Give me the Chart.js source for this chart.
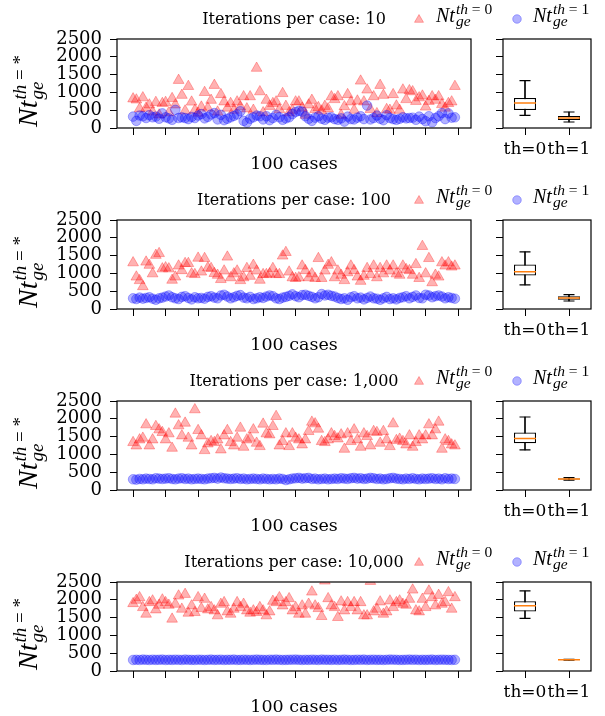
<!DOCTYPE html>
<html>
<head>
<meta charset="utf-8">
<script src="https://cdn.jsdelivr.net/npm/chart.js@4/dist/chart.umd.min.js"></script>
<style>
  body { margin: 0; background: #fff; width: 605px; height: 716px; position: relative; overflow: hidden; }
  .row { position: absolute; left: 0; width: 605px; height: 181px; }
  .row canvas { position: absolute; top: 0; }
</style>
</head>
<body>
<div class="row" style="top:0px"><canvas id="sc0" width="605" height="181" style="left:0"></canvas><canvas id="bx0" width="125" height="181" style="left:480px"></canvas></div>
<div class="row" style="top:181px"><canvas id="sc1" width="605" height="181" style="left:0"></canvas><canvas id="bx1" width="125" height="181" style="left:480px"></canvas></div>
<div class="row" style="top:362px"><canvas id="sc2" width="605" height="181" style="left:0"></canvas><canvas id="bx2" width="125" height="181" style="left:480px"></canvas></div>
<div class="row" style="top:543px"><canvas id="sc3" width="605" height="181" style="left:0"></canvas><canvas id="bx3" width="125" height="181" style="left:480px"></canvas></div>

<script>
// ---- data ----
const titles = ['Iterations per case: 10', 'Iterations per case: 100', 'Iterations per case: 1,000', 'Iterations per case: 10,000'];
const yTicks = [0, 500, 1000, 1500, 2000, 2500];
const xTicks = [0, 10, 20, 30, 40, 50, 60, 70, 80, 90, 100];
const boxLabels = ['th=0', 'th=1'];
const cases = Array.from({ length: 100 }, (_, i) => i);

const th0Iter10 = [
  820, 790, 540, 850, 560, 650, 450, 720, 370, 690,
  720, 430, 830, 650, 1340, 920, 480, 1170, 730, 500,
  420, 590, 1000, 560, 780, 1200, 450, 940, 735, 560,
  690, 500, 735, 600, 880, 540, 880, 500, 1680, 1020,
  430, 780, 610, 690, 735, 520, 970, 610, 430, 500,
  735, 735, 560, 360, 650, 780, 520, 575, 480, 610,
  540, 880, 800, 880, 360, 600, 940, 735, 500, 760,
  1320, 735, 1070, 520, 880, 405, 1200, 920, 520, 500,
  940, 620, 500, 1070, 800, 1050, 1020, 750, 850, 900,
  590, 750, 880, 780, 880, 660, 560, 690, 735, 1170
];
const th1Iter10 = [
  320, 200, 350, 330, 280, 360, 300, 320, 260, 410,
  300, 270, 230, 510, 280, 300, 280, 250, 310, 280,
  350, 390, 270, 310, 380, 420, 240, 370, 220, 260,
  300, 340, 380, 470, 200, 150, 260, 300, 350, 330,
  240, 330, 220, 280, 370, 300, 230, 270, 300, 390,
  450, 480, 460, 330, 260, 200, 290, 330, 260, 230,
  290, 300, 250, 230, 270, 180, 320, 250, 240, 290,
  330, 250, 630, 240, 280, 350, 260, 220, 360, 280,
  250, 230, 260, 300, 270, 280, 290, 230, 320, 250,
  190, 330, 160, 280, 330, 420, 250, 410, 290, 300
];
const th0Iter100 = [
  1300, 900, 800, 630, 1320, 1230, 990, 1510, 1560, 1130,
  1160, 1130, 810, 900, 1210, 1080, 1280, 1280, 990, 970,
  1430, 1040, 1420, 1160, 1140, 1000, 950, 830, 1070, 1460,
  880, 990, 1070, 800, 880, 1140, 920, 1230, 1070, 810,
  970, 970, 990, 1140, 970, 970, 1490, 1590, 1040, 880,
  860, 880, 1210, 1080, 880, 990, 860, 1420, 860, 1070,
  1230, 1300, 880, 1070, 950, 800, 1020, 1210, 1080, 900,
  780, 920, 1140, 970, 1210, 880, 1140, 990, 1210, 1070,
  1210, 990, 950, 1210, 1110, 1080, 950, 1250, 860, 1760,
  990, 1420, 740, 950, 900, 1300, 1210, 1300, 1180, 1210
];
const th1Iter100 = [
  300, 280, 320, 290, 310, 330, 290, 260, 300, 320,
  350, 380, 330, 300, 280, 340, 360, 310, 270, 330,
  300, 310, 290, 340, 360, 320, 300, 380, 400, 350,
  300, 330, 370, 390, 320, 300, 340, 280, 300, 330,
  310, 350, 380, 360, 300, 280, 320, 340, 370, 410,
  360, 330, 390, 400, 370, 340, 300, 330, 420, 380,
  400, 370, 350, 310, 280, 300, 260, 330, 360, 300,
  320, 270, 310, 350, 300, 290, 260, 300, 340, 280,
  300, 270, 310, 330, 360, 300, 340, 380, 310, 300,
  400, 380, 330, 360, 380, 350, 300, 330, 310, 290
];
const th0Iter1000 = [
  1335, 1240, 1410, 1457, 1833, 1240, 1410, 1786, 1692, 1617,
  1410, 1580, 1175, 2134, 1805, 1523, 1880, 1457, 1240, 2256,
  1673, 1523, 1109, 1297, 1363, 1335, 1410, 1128, 1523, 1673,
  1335, 1240, 1457, 1739, 1203, 1410, 1457, 1692, 1316, 1222,
  1852, 1580, 1551, 1786, 2068, 1240, 1363, 1580, 1222, 1580,
  1457, 1410, 1269, 1410, 1645, 1908, 1861, 1711, 1363, 1335,
  1410, 1580, 1504, 1438, 1551, 1147, 1580, 1363, 1692, 1410,
  1203, 1580, 1504, 1240, 1645, 1617, 1316, 1645, 1410, 1222,
  1861, 1391, 1429, 1363, 1269, 1523, 1203, 1335, 1523, 1410,
  1523, 1833, 1523, 1692, 1908, 1147, 1410, 1363, 1269, 1240
];
const th1Iter1000 = [
  300, 290, 310, 300, 320, 310, 300, 330, 320, 310,
  320, 330, 310, 300, 320, 330, 310, 320, 300, 310,
  320, 310, 300, 320, 330, 340, 320, 350, 330, 320,
  310, 320, 330, 310, 320, 300, 310, 320, 310, 300,
  320, 310, 300, 310, 300, 320, 310, 280, 300, 320,
  330, 340, 320, 330, 340, 310, 320, 300, 310, 320,
  300, 310, 320, 310, 330, 320, 310, 330, 340, 320,
  330, 310, 320, 340, 330, 310, 320, 300, 310, 330,
  340, 320, 310, 300, 320, 310, 330, 310, 300, 320,
  310, 320, 330, 310, 320, 300, 330, 310, 320, 310
];
const th0Iter10000 = [
  1895, 1988, 2062, 1784, 1598, 1923, 1970, 1719, 1849, 1998,
  1923, 1849, 1459, 1877, 2109, 1738, 2155, 1626, 1830, 1645,
  2062, 1756, 2016, 1719, 1784, 1691, 1552, 1877, 1923, 1663,
  1598, 1738, 1923, 1784, 1877, 1691, 1626, 1691, 1645, 1784,
  1691, 1552, 1663, 1960, 1923, 2062, 1830, 1923, 2034, 1691,
  1784, 1598, 1830, 1598, 1877, 2220, 1830, 1756, 1533, 2530,
  2034, 1830, 1784, 1505, 1942, 1691, 1923, 1784, 1923, 1691,
  1923, 1552, 1552, 2520, 1663, 1738, 1942, 1598, 1663, 1970,
  1784, 1923, 1970, 1877, 1849, 2016, 2276, 1691, 1663, 2016,
  1784, 2248, 2062, 1830, 2127, 1877, 1923, 2202, 1738, 2062
];
const th1Iter10000 = [
  310, 315, 310, 320, 315, 310, 318, 312, 315, 320,
  310, 315, 312, 318, 315, 310, 320, 315, 312, 310,
  318, 315, 310, 315, 320, 312, 315, 318, 310, 315,
  315, 320, 310, 312, 318, 315, 310, 315, 320, 315,
  312, 310, 318, 315, 320, 315, 310, 312, 315, 318,
  320, 315, 310, 315, 312, 318, 315, 310, 320, 315,
  315, 312, 318, 310, 315, 320, 315, 310, 312, 318,
  315, 320, 310, 315, 318, 312, 315, 310, 315, 320,
  318, 315, 310, 312, 315, 320, 315, 318, 310, 315,
  312, 315, 320, 310, 315, 318, 315, 312, 310, 315
];

// box plot summaries per row: [th=0, th=1]
const boxLow  = [[356, 169], [677, 225], [1128, 280], [1477, 305]];
const boxQ1   = [[506, 225], [940, 263], [1316, 295], [1672, 310]];
const boxMed  = [[703, 281], [1043, 310], [1448, 310], [1830, 315]];
const boxQ3   = [[844, 338], [1250, 357], [1617, 325], [1960, 320]];
const boxHigh = [[1332, 450], [1607, 404], [2050, 345], [2248, 325]];

const th0Rows = [th0Iter10, th0Iter100, th0Iter1000, th0Iter10000];
const th1Rows = [th1Iter10, th1Iter100, th1Iter1000, th1Iter10000];

// ---- styling ----
const SERIF = '"DejaVu Serif", serif';
const MATH = '"Liberation Serif", serif';
const RED = 'rgba(255,0,0,0.3)';
const BLUE = 'rgba(0,0,255,0.3)';

function drawNt(ctx, x, y, supTail, big, small) {
    ctx.save();
    ctx.fillStyle = '#000';
    ctx.textAlign = 'left';
    ctx.textBaseline = 'alphabetic';
    ctx.font = 'italic ' + big + 'px ' + MATH;
    ctx.fillText('Nt', x, y);
    const w = ctx.measureText('Nt').width + 1;
    ctx.font = 'italic ' + small + 'px ' + MATH;
    ctx.fillText('ge', x + w, y + big * 0.22);
    ctx.fillText('th', x + w, y - big * 0.38);
    const w2 = ctx.measureText('th').width;
    ctx.font = small + 'px ' + MATH;
    ctx.fillText(' = ' + supTail, x + w + w2, y - big * 0.38);
    ctx.restore();
}

const framePlugin = {
    id: 'frame',
    afterDraw(chart) {
        const { ctx, chartArea: a } = chart;
        ctx.save();
        ctx.strokeStyle = '#000';
        ctx.lineWidth = 1.2;
        ctx.strokeRect(a.left, a.top, a.right - a.left, a.bottom - a.top);
        ctx.restore();
    }
};

const annotPlugin = {
    id: 'annot',
    afterDraw(chart, args, opts) {
        const { ctx, chartArea: a } = chart;
        ctx.save();
        // title
        ctx.fillStyle = '#000';
        ctx.font = '16px ' + SERIF;
        ctx.textAlign = 'center';
        ctx.textBaseline = 'alphabetic';
        ctx.fillText(opts.title, (a.left + a.right) / 2, 24);
        // legend markers
        ctx.fillStyle = RED;
        ctx.strokeStyle = RED;
        ctx.beginPath();
        ctx.moveTo(419, 14.5);
        ctx.lineTo(423.5, 22.3);
        ctx.lineTo(414.5, 22.3);
        ctx.closePath();
        ctx.fill();
        ctx.stroke();
        ctx.fillStyle = BLUE;
        ctx.strokeStyle = BLUE;
        ctx.beginPath();
        ctx.arc(517, 19, 4.3, 0, Math.PI * 2);
        ctx.fill();
        ctx.stroke();
        ctx.restore();
        drawNt(ctx, 436, 22, '0', 20, 15.5);
        drawNt(ctx, 533, 22, '1', 20, 15.5);
        // y label
        ctx.save();
        ctx.translate(37, 127);
        ctx.rotate(-Math.PI / 2);
        drawNt(ctx, 0, 0, '*', 28, 19);
        ctx.restore();
    }
};

function tickGrid() {
    return { drawOnChartArea: false, drawTicks: true, tickLength: 7, tickColor: '#000', tickWidth: 1 };
}

function buildScatter(r) {
    const toPts = vals => cases.map((c, i) => ({ x: c, y: vals[i] }));
    new Chart(document.getElementById('sc' + r), {
        type: 'scatter',
        data: {
            datasets: [
                {
                    label: 'th=1',
                    data: toPts(th1Rows[r]),
                    pointStyle: 'circle',
                    pointRadius: 4.8,
                    backgroundColor: BLUE,
                    borderColor: BLUE,
                    borderWidth: 1,
                    order: 0
                },
                {
                    label: 'th=0',
                    data: toPts(th0Rows[r]),
                    pointStyle: 'triangle',
                    pointRadius: 6.2,
                    backgroundColor: RED,
                    borderColor: RED,
                    borderWidth: 1,
                    order: 1
                }
            ]
        },
        options: {
            responsive: false,
            animation: false,
            devicePixelRatio: 1,
            layout: { padding: { left: 0, right: 134, top: 39, bottom: 0 } },
            plugins: {
                legend: { display: false },
                tooltip: { enabled: false },
                annot: { title: titles[r] }
            },
            scales: {
                x: {
                    type: 'linear',
                    min: -4.95,
                    max: 103.95,
                    afterBuildTicks: s => { s.ticks = xTicks.map(v => ({ value: v })); },
                    afterFit: s => { s.height = 53; },
                    ticks: { display: false },
                    grid: tickGrid(),
                    border: { display: false },
                    title: {
                        display: true,
                        text: '100 cases',
                        color: '#000',
                        font: { family: SERIF, size: 17.5 },
                        padding: { top: 0, bottom: 6 }
                    }
                },
                y: {
                    min: 0,
                    max: 2500,
                    afterBuildTicks: s => { s.ticks = yTicks.map(v => ({ value: v })); },
                    afterFit: s => { s.width = 117; },
                    ticks: {
                        color: '#000',
                        padding: 8,
                        autoSkip: false,
                        font: { family: SERIF, size: 18 },
                        callback: v => String(v)
                    },
                    grid: tickGrid(),
                    border: { display: false }
                }
            }
        },
        plugins: [framePlugin, annotPlugin]
    });
}

function buildBox(r) {
    new Chart(document.getElementById('bx' + r), {
        type: 'bar',
        data: {
            labels: boxLabels,
            datasets: [
                {
                    label: 'whisker',
                    data: boxLabels.map((_, k) => [boxLow[r][k], boxHigh[r][k]]),
                    backgroundColor: '#000',
                    borderWidth: 0,
                    barThickness: 1,
                    grouped: false,
                    order: 3
                },
                {
                    label: 'box',
                    data: boxLabels.map((_, k) => [boxQ1[r][k], boxQ3[r][k]]),
                    backgroundColor: '#fff',
                    borderColor: '#000',
                    borderWidth: 1.2,
                    borderSkipped: false,
                    barPercentage: 0.5,
                    categoryPercentage: 1,
                    grouped: false,
                    order: 2
                },
                {
                    type: 'line',
                    label: 'caps low',
                    data: boxLow[r],
                    showLine: false,
                    pointStyle: 'line',
                    pointRadius: 5.5,
                    pointBorderColor: '#000',
                    pointBorderWidth: 1.2,
                    order: 1
                },
                {
                    type: 'line',
                    label: 'caps high',
                    data: boxHigh[r],
                    showLine: false,
                    pointStyle: 'line',
                    pointRadius: 5.5,
                    pointBorderColor: '#000',
                    pointBorderWidth: 1.2,
                    order: 1
                },
                {
                    type: 'line',
                    label: 'median',
                    data: boxMed[r],
                    showLine: false,
                    pointStyle: 'line',
                    pointRadius: 11,
                    pointBorderColor: '#ff7f0e',
                    pointBorderWidth: 1.5,
                    order: 0
                }
            ]
        },
        options: {
            responsive: false,
            animation: false,
            devicePixelRatio: 1,
            layout: { padding: { left: 0, right: 14, top: 39, bottom: 0 } },
            plugins: { legend: { display: false }, tooltip: { enabled: false } },
            scales: {
                x: {
                    type: 'category',
                    offset: true,
                    afterFit: s => { s.height = 53; },
                    ticks: { color: '#000', padding: 4, maxRotation: 0, autoSkip: false, font: { family: SERIF, size: 17 } },
                    grid: Object.assign(tickGrid(), { offset: false }),
                    border: { display: false }
                },
                y: {
                    min: 0,
                    max: 2500,
                    afterBuildTicks: s => { s.ticks = yTicks.map(v => ({ value: v })); },
                    afterFit: s => { s.width = 23; },
                    ticks: { display: false },
                    grid: tickGrid(),
                    border: { display: false }
                }
            }
        },
        plugins: [framePlugin]
    });
}

for (let r = 0; r < 4; r++) {
    buildScatter(r);
    buildBox(r);
}
</script>
</body>
</html>
